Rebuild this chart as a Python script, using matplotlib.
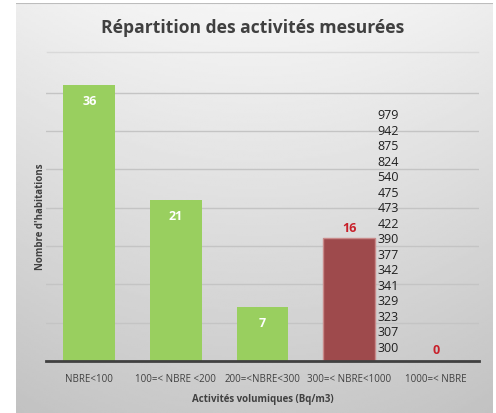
import matplotlib
matplotlib.use('Agg')
import matplotlib.pyplot as plt
import numpy as np

plt.rcParams['font.family'] = ['Open Sans', 'DejaVu Sans']

# data
categories = ['NBRE<100', '100=< NBRE <200', '200=<NBRE<300', '300=< NBRE<1000', '1000=< NBRE']
counts = [36, 21, 7, 16, 0]
bar_colors = ['#99cf5f', '#99cf5f', '#99cf5f', '#9e4a4c', '#99cf5f']
measured = [979, 942, 875, 824, 540, 475, 473, 422, 390, 377, 342, 341, 329, 323, 307, 300]

W, H = 496, 414
fig = plt.figure(figsize=(W / 100, H / 100), dpi=100)

# gray gradient panel
bg = fig.add_axes([16 / W, 0, (493 - 16) / W, (H - 4) / H])
yy = np.linspace(0, 1, 200)[:, None]
xx = np.linspace(-1, 1, 200)[None, :]
grad = 0.96 - 0.17 * yy - 0.03 * xx ** 2
bg.imshow(grad, cmap='gray', vmin=0, vmax=1, aspect='auto', extent=[0, 1, 0, 1])
bg.axhline(1, color='#bdbdbd', lw=1.5)
bg.set_axis_off()

# title and separator
fig.text(253 / W, 1 - 28 / H, 'Répartition des activités mesurées', ha='center', va='center',
         fontsize=12.6, fontweight='bold', color='#404040')
fig.add_artist(plt.Line2D([47 / W, 478 / W], [1 - 53 / H, 1 - 53 / H], color='#d9d9d9', lw=1))

ax = fig.add_axes([46 / W, 1 - 362 / H, 433 / W, 291.5 / H])
ax.set_facecolor('none')
x = np.arange(len(categories))
bars = ax.bar(x, counts, width=0.6, color=bar_colors, zorder=3)
bars[3].set_edgecolor('#c98a8a')
bars[3].set_linewidth(1)

ax.set_xlim(-0.5, 4.5)
ax.set_ylim(0, 38)
ax.set_yticks(range(5, 40, 5))
ax.yaxis.grid(True, color='#c4c4c4', lw=1, zorder=0)
ax.tick_params(axis='y', length=0, labelleft=False)
ax.tick_params(axis='x', length=0, labelsize=7, labelcolor='#404040', pad=9)
ax.set_xticks(x)
ax.set_xticklabels(categories)
for s in ['top', 'right', 'left']:
    ax.spines[s].set_visible(False)
ax.spines['bottom'].set_color('#404040')
ax.spines['bottom'].set_linewidth(2)
ax.spines['bottom'].set_zorder(4)

ax.set_xlabel('Activités volumiques (Bq/m3)', fontsize=7, fontweight='bold', color='#404040', labelpad=6)
ax.set_ylabel("Nombre d'habitations", fontsize=7, fontweight='bold', color='#404040', labelpad=0)

# value labels
for i, v in enumerate(counts):
    if bar_colors[i] == '#99cf5f' and v > 0:
        ax.annotate(str(v), (i, v), xytext=(0, -11), textcoords='offset points', ha='center',
                    va='center', fontsize=9, fontweight='bold', color='white', zorder=5)
    else:
        ax.annotate(str(v), (i, v), xytext=(0, 8), textcoords='offset points', ha='center',
                    va='center', fontsize=9, fontweight='bold', color='#c8202a', zorder=5)

# list of measured activities beside the red bar
for k, m in enumerate(measured[::-1]):
    ax.text(3.33, 1.8 + 2.02 * k, str(m), ha='left', va='center', fontsize=9, color='#202020', zorder=5)

fig.savefig('out.png', dpi=100)
